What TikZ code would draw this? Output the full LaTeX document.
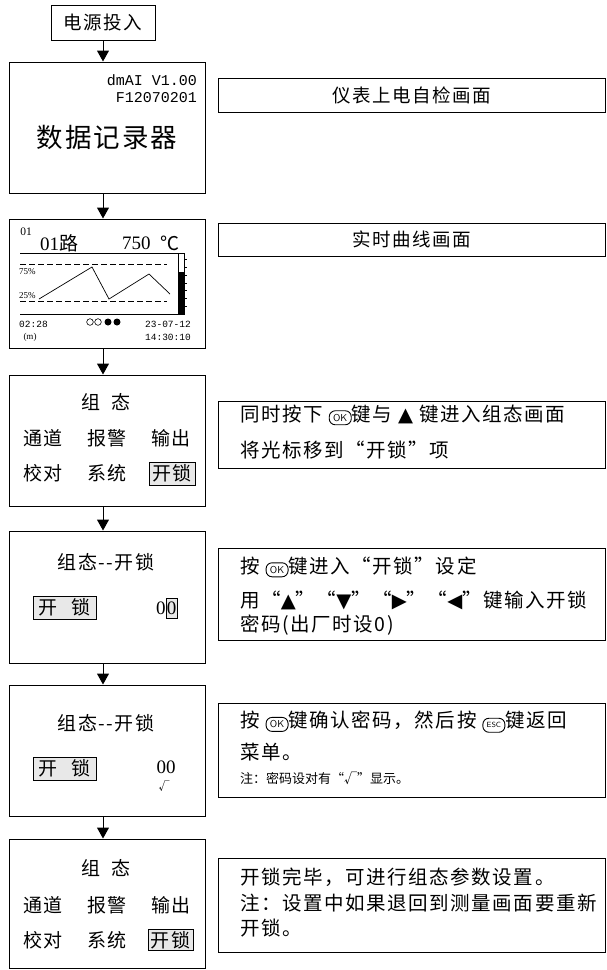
\documentclass[tikz,border=0pt]{standalone}
\usepackage{fontspec}
\setmainfont{Liberation Serif}
\newfontfamily\cjk[LetterSpace=8]{Noto Sans CJK SC}
\newfontfamily\cjkn{Noto Sans CJK SC}
\newfontfamily\symf{DejaVu Sans}
\newfontfamily\monof{Liberation Mono}
\usetikzlibrary{arrows.meta}
\newcommand\okkey{\tikz[baseline=(kk.base)]\node[draw, rounded corners=6pt, line width=0.9pt, minimum width=22pt, minimum height=14pt, inner sep=0pt, font=\sffamily\fontsize{10}{10}\selectfont] (kk) {OK};}
\newcommand\esckey{\tikz[baseline=(ke.base)]\node[draw, rounded corners=6pt, line width=0.9pt, minimum width=22pt, minimum height=14pt, inner sep=0pt, font=\sffamily\fontsize{7.5}{8}\selectfont] (ke) {ESC};}
\tikzset{
  lbox/.style={draw, line width=1pt, minimum width=196pt},
  rbox/.style={draw, line width=0.9pt, minimum width=387pt},
  conn/.style={line width=1pt, -{Triangle[length=11pt,width=12pt]}},
  big/.style={font=\cjk\fontsize{19}{22}\selectfont},
  rtx/.style={anchor=west, font=\cjk\fontsize{19.5}{22}\selectfont},
  hl/.style={draw, fill=gray!18, line width=0.8pt},
  mono/.style={font=\monof\fontsize{9.5}{10}\selectfont},
  small/.style={font=\fontsize{9}{10}\selectfont},
}
\begin{document}
\begin{tikzpicture}[x=1pt,y=-1pt, every node/.style={inner sep=0pt}]
\useasboundingbox (0,0) rectangle (607,970);
\coordinate (ax) at (103,0);

% left column boxes
\node[draw, line width=1pt, minimum width=104pt, minimum height=35pt, font=\cjk\fontsize{18.5}{22}\selectfont] (b0) at (103,22.5) {电源投入};
\node[lbox, minimum height=131pt] (b1) at (107,127.5) {};
\node[lbox, minimum height=129pt] (b2) at (107,283.5) {};
\node[lbox, minimum height=131pt] (b3) at (107,440.5) {};
\node[lbox, minimum height=132pt] (b4) at (107,597) {};
\node[lbox, minimum height=131pt] (b5) at (107,750.5) {};
\node[lbox, minimum height=129pt] (b6) at (107,903.5) {};

% connectors
\draw[conn] (ax |- b0.south) -- (ax |- b1.north);
\draw[conn] (ax |- b1.south) -- (ax |- b2.north);
\draw[conn] (ax |- b2.south) -- (ax |- b3.north);
\draw[conn] (ax |- b3.south) -- (ax |- b4.north);
\draw[conn] (ax |- b4.south) -- (ax |- b5.north);
\draw[conn] (ax |- b5.south) -- (ax |- b6.north);

% box 1
\node[anchor=east, font=\monof\fontsize{15}{16}\selectfont] (ver) at (197,80) {dmAI V1.00};
\node[anchor=east, font=\monof\fontsize{15}{16}\selectfont] (ser) at (197,98) {F12070201};
\node[font=\cjk\fontsize{26.5}{28}\selectfont] (ttl) at (107,137) {数据记录器};

% box 2 (curve screen)
\node[font=\fontsize{11.5}{12}\selectfont] (chn) at (26,232) {01};
\node[anchor=west, font=\fontsize{19}{20}\selectfont] (chname) at (40,243) {01{\cjkn 路}};
\node[anchor=west, font=\fontsize{19}{20}\selectfont] (val) at (122,243) {750};
\node[anchor=west, font=\cjkn\fontsize{19}{20}\selectfont] (unit) at (160,243) {℃};
\draw[line width=0.9pt] (20,253) -- (178,253);
\draw[line width=0.9pt] (20,314) -- (183,314);
\draw[line width=0.8pt] (178,253) rectangle (184,314);
\fill (178,272) rectangle (184,314);
\foreach \yy in {259,267,275,283,290,298,306} \draw[line width=0.6pt] (184,\yy) -- (187,\yy);
\draw[line width=1pt, dash pattern=on 6pt off 3pt] (20,264) -- (167,264);
\draw[line width=1pt, dash pattern=on 6pt off 3pt] (20,301) -- (167,301);
\draw[line width=0.7pt] (39,299) -- (92,267) -- (109,299) -- (149,274) -- (170,294);
\node[anchor=west, small] (p75) at (19,272) {75\%};
\node[anchor=west, small] (p25) at (19,296) {25\%};
\node[anchor=west, mono] (tm) at (19,324) {02:28};
\node[small] (mm) at (30,337) {(m)};
\draw[line width=0.6pt] (90,322) circle (3.3);
\draw[line width=0.6pt] (98,322) circle (3.3);
\fill (108,322) circle (3.5);
\fill (117,322) circle (3.5);
\node[anchor=east, mono] (dt) at (191,324) {23-07-12};
\node[anchor=east, mono] (tt) at (191,337) {14:30:10};

% box 3
\node[big] (g3) at (106,402) {组\hspace{12pt}态};
\node[big] (r3a) at (43,438) {通道};
\node[big] (r3b) at (107,438) {报警};
\node[big] (r3c) at (171,438) {输出};
\node[big] (r3d) at (43,473) {校对};
\node[big] (r3e) at (107,473) {系统};
\node[hl, minimum width=46pt, minimum height=23pt, big] (r3f) at (172,473.5) {开锁};

% box 4
\node[big] (g4) at (106,562) {组态--开锁};
\node[hl, minimum width=63pt, minimum height=23pt, big] (k4) at (64.5,607.5) {开\hspace{14pt}锁};
\node[anchor=west, font=\fontsize{19}{20}\selectfont] (z4a) at (156,608) {0};
\node[hl, minimum width=11pt, minimum height=20pt, font=\fontsize{19}{20}\selectfont] (z4b) at (171.5,608) {0};

% box 5
\node[big] (g5) at (106,723) {组态--开锁};
\node[hl, minimum width=63pt, minimum height=23pt, big] (k5) at (64.5,768.5) {开\hspace{14pt}锁};
\node[font=\fontsize{19}{20}\selectfont] (z5) at (166,767) {00};
\node[font=\cjkn\fontsize{11}{12}\selectfont] (ck5) at (164,786) {√};

% box 6
\node[big] (g6) at (106,868) {组\hspace{12pt}态};
\node[big] (r6a) at (43,905) {通道};
\node[big] (r6b) at (107,905) {报警};
\node[big] (r6c) at (171,905) {输出};
\node[big] (r6d) at (43,940) {校对};
\node[big] (r6e) at (107,940) {系统};
\node[hl, minimum width=45pt, minimum height=21pt, big] (r6f) at (170.5,940) {开锁};

% right column boxes
\node[rbox, minimum height=34pt, font=\cjk\fontsize{18.5}{22}\selectfont] (n1) at (411.5,95) {仪表上电自检画面};
\node[rbox, minimum height=33pt, font=\cjk\fontsize{18.5}{22}\selectfont] (n2) at (411.5,239.5) {实时曲线画面};
\node[rbox, minimum height=67pt] (n3) at (411.5,434.5) {};
\node[rbox, minimum height=92pt] (n4) at (411.5,594) {};
\node[rbox, minimum height=94pt] (n5) at (411.5,750) {};
\node[rbox, minimum height=94pt] (n6) at (411.5,905) {};

\node[rtx] (n3a) at (240,415) {同时按下 \okkey 键与 {\symf▲} 键进入组态画面};
\node[rtx] (n3b) at (240,450) {将光标移到“开锁”项};

\node[rtx] (n4a) at (240,567) {按 \okkey 键进入“开锁”设定};
\node[rtx] (n4b) at (240,600) {用“{\symf▲}”“{\symf▼}”“{\symf▶}”“{\symf◀}”键输入开锁};
\node[rtx] (n4c) at (240,625) {密码(出厂时设0)};

\node[rtx] (n5a) at (240,722) {按 \okkey 键确认密码，然后按 \esckey 键返回};
\node[rtx] (n5b) at (240,752) {菜单。};
\node[anchor=west, font=\cjkn\fontsize{13}{16}\selectfont] (n5c) at (240,778) {注：密码设对有“√”显示。};

\node[rtx] (n6a) at (240,877) {开锁完毕，可进行组态参数设置。};
\node[rtx] (n6b) at (240,903) {注：设置中如果退回到测量画面要重新};
\node[rtx] (n6c) at (240,928) {开锁。};
\end{tikzpicture}
\end{document}
